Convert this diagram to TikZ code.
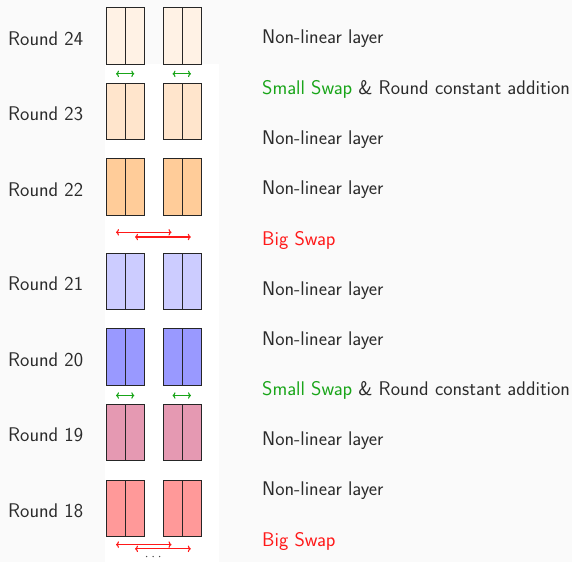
\documentclass[tikz,border=0pt]{standalone}
\usepackage{tikz}
\usetikzlibrary{arrows.meta}
\definecolor{bgc}{HTML}{FAFAFA}
\definecolor{txt}{HTML}{2B2B2B}
\definecolor{swapgreen}{RGB}{25,165,25}
\definecolor{swapred}{RGB}{255,25,25}
\tikzset{
  half/.style={draw=black!85, line width=0.9pt, minimum width=19pt, minimum height=56.5pt, inner sep=0pt, outer sep=0pt},
  lbl/.style={text=txt, font=\sffamily\fontsize{19.8}{22}\selectfont, inner sep=0pt, anchor=west},
  sgarrow/.style={draw=swapgreen, line width=1.1pt, {To[length=3pt,width=6.5pt]}-{To[length=3pt,width=6.5pt]}},
  bgarrow/.style={draw=swapred, line width=1.1pt, {To[length=3pt,width=6.5pt]}-{To[length=3pt,width=6.5pt]}},
}
\newcommand{\roundrow}[3]{% name, top y, colour
  \node[half, fill=#3, anchor=north west] (#1a) at (106,#2) {};
  \node[half, fill=#3, anchor=north west] (#1b) at (125,#2) {};
  \node[half, fill=#3, anchor=north west] (#1c) at (163,#2) {};
  \node[half, fill=#3, anchor=north west] (#1d) at (182,#2) {};
}
\begin{document}
\begin{tikzpicture}[x=1pt,y=-1pt]
\fill[bgc] (0,0) rectangle (572,562);
\useasboundingbox (0,0) rectangle (572,562);
\fill[white] (105,64) rectangle (219,562);

\roundrow{r24}{7.5}{orange!10}
\roundrow{r23}{83.2}{orange!20}
\roundrow{r22}{158.9}{orange!40}
\roundrow{r21}{253.2}{blue!20}
\roundrow{r20}{328.9}{blue!40}
\roundrow{r19}{404.4}{purple!40}
\roundrow{r18}{480.2}{red!40}

% round labels
\foreach \n/\y/\t in {r24/38.3/24, r23/113.8/23, r22/189.3/22, r21/283.8/21, r20/359.3/20, r19/434.8/19, r18/510.8/18}
  \node[lbl] (lab\n) at (8,\y) {Round \t};

% small swaps
\coordinate (s1a) at (116,73.8); \coordinate (s1b) at (134.3,73.8);
\coordinate (s1c) at (172.5,73.8); \coordinate (s1d) at (191,73.8);
\draw[sgarrow] (s1a) -- (s1b);
\draw[sgarrow] (s1c) -- (s1d);
\coordinate (s2a) at (116,395.5); \coordinate (s2b) at (134.3,395.5);
\coordinate (s2c) at (172.5,395.5); \coordinate (s2d) at (191,395.5);
\draw[sgarrow] (s2a) -- (s2b);
\draw[sgarrow] (s2c) -- (s2d);

% big swaps
\coordinate (b1a) at (116,232.3); \coordinate (b1b) at (171.5,232.3);
\coordinate (b1c) at (135,237); \coordinate (b1d) at (190.8,237);
\draw[bgarrow] (b1a) -- (b1b);
\draw[bgarrow] (b1c) -- (b1d);
\coordinate (b2a) at (116,544.6); \coordinate (b2b) at (171.5,544.6);
\coordinate (b2c) at (135,548.8); \coordinate (b2d) at (190.8,548.8);
\draw[bgarrow] (b2a) -- (b2b);
\draw[bgarrow] (b2c) -- (b2d);

% dots
\foreach \x [count=\i] in {146.7,153.2,159.6}
  \fill[black!70] (\x,556.5) circle (0.75pt) coordinate (dot\i);

% right-hand labels
\node[lbl] (t1) at (262,38.8) {Non-linear layer};
\node[lbl] (t2) at (262,89.3) {\textcolor{swapgreen}{Small Swap} \& Round constant addition};
\node[lbl] (t3) at (262,139.6) {Non-linear layer};
\node[lbl] (t4) at (262,189.8) {Non-linear layer};
\node[lbl] (t5) at (262,240) {\textcolor{swapred}{Big Swap}};
\node[lbl] (t6) at (262,290.2) {Non-linear layer};
\node[lbl] (t7) at (262,340.4) {Non-linear layer};
\node[lbl] (t8) at (262,390.6) {\textcolor{swapgreen}{Small Swap} \& Round constant addition};
\node[lbl] (t9) at (262,440.8) {Non-linear layer};
\node[lbl] (t10) at (262,491) {Non-linear layer};
\node[lbl] (t11) at (262,541.2) {\textcolor{swapred}{Big Swap}};
\node[lbl] (t12) at (262,591.4) {Non-linear layer};
\end{tikzpicture}
\end{document}
